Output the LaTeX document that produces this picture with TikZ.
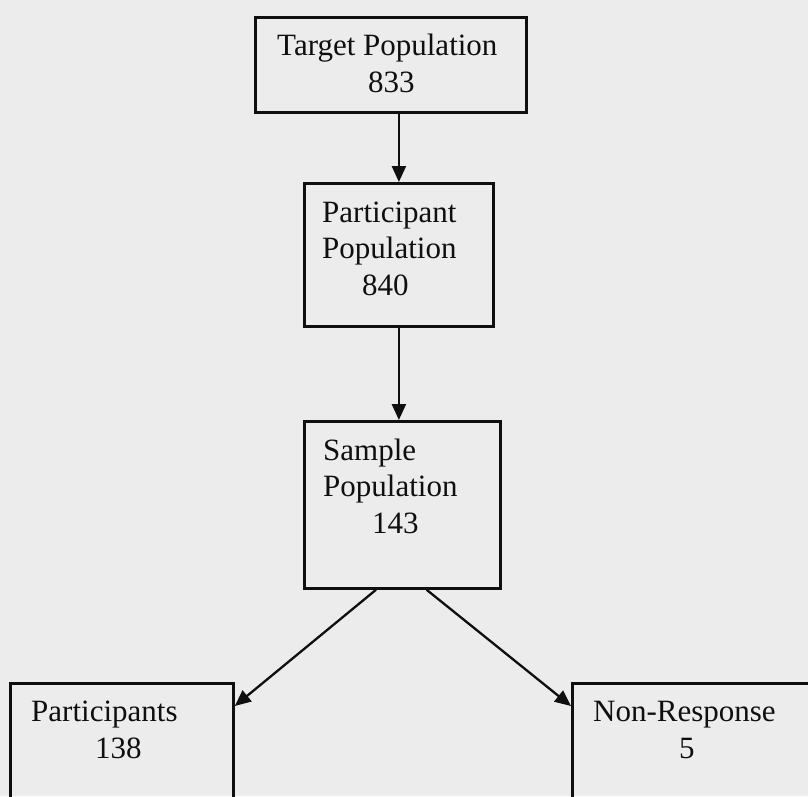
\documentclass[tikz,border=0pt]{standalone}
\usepackage{fontspec}
\setmainfont{Liberation Serif}
\usetikzlibrary{arrows.meta,calc}
\definecolor{bg}{RGB}{236,236,236}
\definecolor{ink}{RGB}{15,15,15}
\tikzset{
  box/.style={draw=ink, line width=2.8pt, fill=none, inner sep=0pt, anchor=north west},
  lbl/.style={anchor=base west, inner sep=0pt, align=left, text=ink,
              font=\fontsize{31}{36.5}\selectfont},
  arr/.style={draw=ink, line width=2.3pt, -{Triangle[length=16pt,width=14pt]}}
}
\begin{document}
\begin{tikzpicture}[x=1pt,y=-1pt]
\useasboundingbox (0,0) rectangle (808,796);
\clip (0,0) rectangle (808,796);
\fill[bg] (0,0) rectangle (808,796);
% boxes
\node[box, minimum width=271pt, minimum height=95pt]  (t)  at (254,16)  {};
\node[box, minimum width=189pt, minimum height=143pt] (p)  at (303,182) {};
\node[box, minimum width=196pt, minimum height=167pt] (s)  at (303,420) {};
\node[box, minimum width=223pt, minimum height=160pt] (pa) at (9,682)   {};
\node[box, minimum width=280pt, minimum height=160pt] (nr) at (571,682) {};
% texts (anchored at the baseline of the last line)
\node[lbl] (tt)  at (277,92)  {Target Population\\\hspace*{91pt}833};
\node[lbl] (ptx) at (322,295) {Participant\\Population\\\hspace*{40pt}840};
\node[lbl] (stx) at (323,533) {Sample\\Population\\\hspace*{49pt}143};
\node[lbl] (pat) at (31,758)  {Participants\\\hspace*{64pt}138};
\node[lbl] (ntx) at (593,758) {Non-Response\\\hspace*{86pt}5};
% connectors
\draw[arr] (t.south -| p.north) -- (p.north);
\draw[arr] (p.south) -- (p.south |- s.north);
\coordinate (sl) at ($(s.south west)!0.367!(s.south east)$);
\coordinate (sr) at ($(s.south west)!0.622!(s.south east)$);
\coordinate (pae) at ($(pa.north east)+(0,24)$);
\coordinate (nrw) at ($(nr.north west)+(0,24)$);
\draw[arr] (sl) -- (pae);
\draw[arr] (sr) -- (nrw);
\end{tikzpicture}
\end{document}
